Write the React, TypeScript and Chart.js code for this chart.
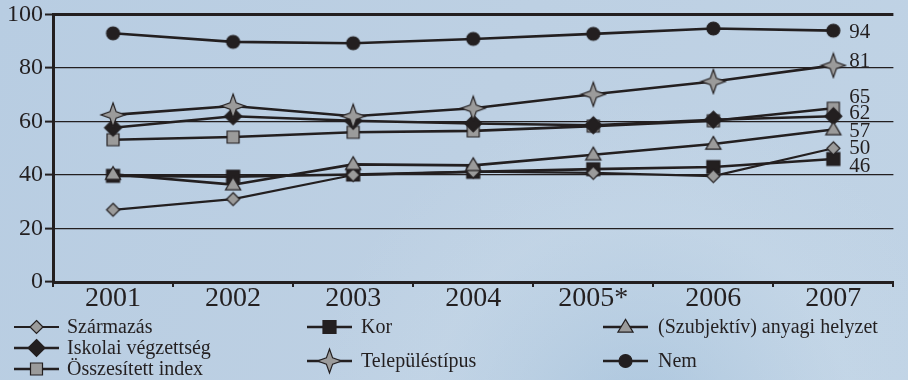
import React, { useEffect, useRef } from 'react';
import { Chart, registerables } from 'chart.js';

Chart.register(...registerables);

// Years and series values (percent)
const YEARS = ['2001', '2002', '2003', '2004', '2005*', '2006', '2007'];
const SZARMAZAS = [27, 31, 40, 41.3, 40.8, 39.6, 50];
const ISKOLAI = [57.7, 62, 60.3, 59.3, 58.6, 60.7, 62];
const OSSZESITETT = [53.2, 54.2, 56, 56.5, 58.3, 60.3, 65];
const KOR = [39.7, 39.4, 40.2, 41.2, 42.2, 43, 46];
const TELEPULES = [62.5, 65.8, 62, 65, 70.2, 75, 81];
const SZUBJEKTIV = [40.3, 36.4, 44, 43.6, 47.6, 51.6, 57];
const NEM = [93, 89.8, 89.3, 90.9, 92.8, 94.8, 94];
const Y_TICKS = [0, 20, 40, 60, 80, 100];

const INK = '#231f20';
const GREY = '#9b9b9b';
const SERIF = '"Liberation Serif", "DejaVu Serif", serif';

type Shape = 'diamond' | 'square' | 'triangle' | 'star' | 'circle';

interface SeriesStyle {
  name: string;
  data: number[];
  shape: Shape;
  fill: string;
  size: number;
  lineWidth: number;
  order: number;
  labelShift: number; // vertical nudge of the end-value label, px
}

const SERIES: SeriesStyle[] = [
  { name: 'Származás', data: SZARMAZAS, shape: 'diamond', fill: GREY, size: 6.5, lineWidth: 2.2, order: 3, labelShift: -1 },
  { name: 'Iskolai végzettség', data: ISKOLAI, shape: 'diamond', fill: INK, size: 8.5, lineWidth: 2.6, order: 5, labelShift: -4 },
  { name: 'Összesített index', data: OSSZESITETT, shape: 'square', fill: GREY, size: 6, lineWidth: 2.6, order: 6, labelShift: -12 },
  { name: 'Kor', data: KOR, shape: 'square', fill: INK, size: 6.5, lineWidth: 2.6, order: 4, labelShift: 6 },
  { name: 'Településtípus', data: TELEPULES, shape: 'star', fill: GREY, size: 12, lineWidth: 2.6, order: 1, labelShift: -5 },
  { name: '(Szubjektív) anyagi helyzet', data: SZUBJEKTIV, shape: 'triangle', fill: GREY, size: 8, lineWidth: 2.6, order: 2, labelShift: 0 },
  { name: 'Nem', data: NEM, shape: 'circle', fill: INK, size: 6.5, lineWidth: 2.6, order: 0, labelShift: 0 },
];

// Legend grid columns and item placement
const LEGEND_COLS = [
  { line: 14, text: 67 },
  { line: 307, text: 361 },
  { line: 603, text: 658 },
];
const LEGEND_ITEMS: { idx: number; col: number; y: number }[] = [
  { idx: 0, col: 0, y: 327 },
  { idx: 1, col: 0, y: 348 },
  { idx: 2, col: 0, y: 369 },
  { idx: 3, col: 1, y: 327 },
  { idx: 4, col: 1, y: 361 },
  { idx: 5, col: 2, y: 327 },
  { idx: 6, col: 2, y: 361 },
];

// Draws one marker centred at (x, y); size = half extent
function drawMarker(g: CanvasRenderingContext2D, shape: Shape, fill: string, size: number, x: number, y: number) {
  g.save();
  g.beginPath();
  if (shape === 'diamond') {
    g.moveTo(x, y - size);
    g.lineTo(x + size, y);
    g.lineTo(x, y + size);
    g.lineTo(x - size, y);
    g.closePath();
  } else if (shape === 'square') {
    g.rect(x - size, y - size, size * 2, size * 2);
  } else if (shape === 'triangle') {
    const h = size * 1.6;
    g.moveTo(x, y - h * 0.6);
    g.lineTo(x + size * 0.95, y + h * 0.4);
    g.lineTo(x - size * 0.95, y + h * 0.4);
    g.closePath();
  } else if (shape === 'star') {
    const r = size * 0.26;
    g.moveTo(x, y - size);
    g.lineTo(x + r, y - r);
    g.lineTo(x + size, y);
    g.lineTo(x + r, y + r);
    g.lineTo(x, y + size);
    g.lineTo(x - r, y + r);
    g.lineTo(x - size, y);
    g.lineTo(x - r, y - r);
    g.closePath();
  } else {
    g.arc(x, y, size, 0, Math.PI * 2);
  }
  g.fillStyle = fill;
  g.fill();
  g.lineWidth = 1.2;
  g.strokeStyle = INK;
  g.stroke();
  g.restore();
}

function markerImage(s: SeriesStyle): HTMLCanvasElement {
  const dim = Math.ceil(s.size * 2 + 4);
  const c = document.createElement('canvas');
  c.width = dim;
  c.height = dim;
  const g = c.getContext('2d')!;
  drawMarker(g, s.shape, s.fill, s.size, dim / 2, dim / 2);
  return c;
}

const backgroundPlugin = {
  id: 'paperBackground',
  beforeDraw(chart: Chart) {
    const { ctx, width, height } = chart;
    ctx.save();
    const lin = ctx.createLinearGradient(0, 0, width, height);
    lin.addColorStop(0, '#b8cde2');
    lin.addColorStop(0.5, '#bdd0e3');
    lin.addColorStop(1, '#c0d3e5');
    ctx.fillStyle = lin;
    ctx.fillRect(0, 0, width, height);
    // faint globe glow in the lower middle
    const rad = ctx.createRadialGradient(640, 430, 40, 640, 430, 330);
    rad.addColorStop(0, 'rgba(150,185,215,0.35)');
    rad.addColorStop(0.6, 'rgba(205,222,236,0.25)');
    rad.addColorStop(1, 'rgba(205,222,236,0)');
    ctx.fillStyle = rad;
    ctx.fillRect(0, 0, width, height);
    ctx.restore();
  },
};

const endLabelPlugin = {
  id: 'endLabels',
  afterDatasetsDraw(chart: Chart) {
    const { ctx } = chart;
    ctx.save();
    ctx.font = `21px ${SERIF}`;
    ctx.fillStyle = INK;
    ctx.textAlign = 'left';
    ctx.textBaseline = 'alphabetic';
    SERIES.forEach((s, i) => {
      const meta = chart.getDatasetMeta(i);
      const pt = meta.data[meta.data.length - 1];
      if (!pt) return;
      const v = s.data[s.data.length - 1];
      ctx.fillText(String(Math.round(v)), pt.x + 16, pt.y + s.labelShift + 7);
    });
    ctx.restore();
  },
};

const legendPlugin = {
  id: 'gridLegend',
  afterDraw(chart: Chart) {
    const { ctx } = chart;
    ctx.save();
    ctx.font = `20px ${SERIF}`;
    ctx.fillStyle = INK;
    ctx.textBaseline = 'alphabetic';
    LEGEND_ITEMS.forEach(({ idx, col, y }) => {
      const s = SERIES[idx];
      const c = LEGEND_COLS[col];
      ctx.beginPath();
      ctx.moveTo(c.line, y);
      ctx.lineTo(c.line + 45, y);
      ctx.lineWidth = s.lineWidth;
      ctx.strokeStyle = INK;
      ctx.stroke();
      drawMarker(ctx, s.shape, s.fill, s.size, c.line + 22.5, y);
      ctx.fillStyle = INK;
      ctx.fillText(s.name, c.text, y + 6);
    });
    ctx.restore();
  },
};

export default function App() {
  const canvasRef = useRef<HTMLCanvasElement | null>(null);

  useEffect(() => {
    const canvas = canvasRef.current;
    if (!canvas) return;

    const datasets = SERIES.map((s) => ({
      label: s.name,
      data: s.data,
      borderColor: INK,
      borderWidth: s.lineWidth,
      pointStyle: markerImage(s),
      pointRadius: s.size,
      tension: 0,
      fill: false,
      order: s.order,
    }));

    const chart = new Chart(canvas, {
      type: 'line',
      data: { labels: YEARS, datasets },
      options: {
        animation: false,
        responsive: false,
        maintainAspectRatio: false,
        layout: { padding: { top: 14, right: 0, bottom: 0, left: 0 } },
        plugins: {
          legend: { display: false },
          tooltip: { enabled: false },
        },
        scales: {
          x: {
            offset: true,
            grid: {
              offset: true,
              drawOnChartArea: false,
              drawTicks: true,
              tickLength: 5,
              color: INK,
              lineWidth: 2,
            },
            border: { color: INK, width: 3 },
            ticks: {
              color: INK,
              padding: -2,
              font: { family: SERIF, size: 28, lineHeight: 1 },
              maxRotation: 0,
            },
            afterFit: (scale: any) => {
              scale.height = 98;
            },
          },
          y: {
            min: 0,
            max: 100,
            afterBuildTicks: (scale: any) => {
              scale.ticks = Y_TICKS.map((v) => ({ value: v }));
            },
            grid: {
              color: INK,
              lineWidth: (c: any) => (c.tick && c.tick.value === 100 ? 3 : 1.2),
              tickLength: 8,
              tickColor: INK,
              tickWidth: 2,
            },
            border: { color: INK, width: 3 },
            ticks: {
              color: INK,
              padding: 2,
              font: { family: SERIF, size: 24, lineHeight: 1 },
            },
            afterFit: (scale: any) => {
              scale.width = 53;
            },
          },
        },
      },
      plugins: [backgroundPlugin, endLabelPlugin, legendPlugin],
    });

    return () => chart.destroy();
  }, []);

  return (
    <div style={{ position: 'fixed', left: 0, top: 0, width: 908, height: 380 }}>
      <canvas ref={canvasRef} width={908} height={380} style={{ width: 908, height: 380, display: 'block' }} />
    </div>
  );
}
